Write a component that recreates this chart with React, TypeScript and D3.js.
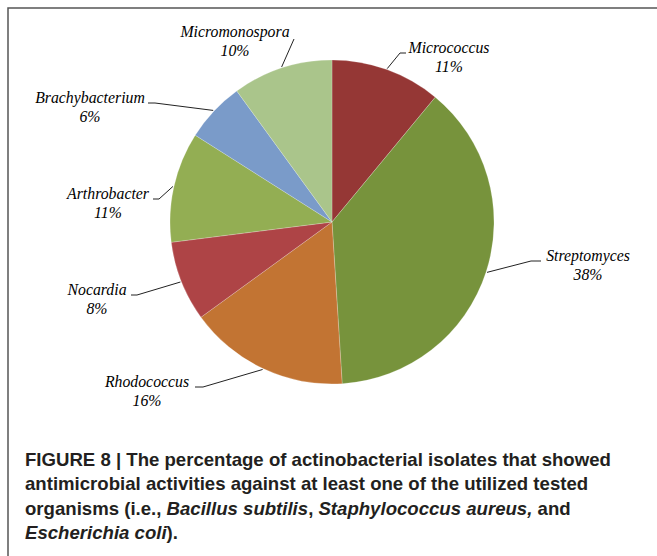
import React, { useEffect, useRef } from 'react';
import * as d3 from 'd3';

// Data
const genera = ['Micrococcus', 'Streptomyces', 'Rhodococcus', 'Nocardia', 'Arthrobacter', 'Brachybacterium', 'Micromonospora'];
const percents = [11, 38, 16, 8, 11, 6, 10];
const sliceColors = ['#953735', '#77933c', '#c27433', '#ae4446', '#93ae53', '#7a9bc9', '#aac58b'];

// where each label sits (text centre + first baseline) and the bend of its leader line
const labelLayout = [
    { x: 449, y: 53, elbow: [400, 53], end: [406, 53] },
    { x: 588, y: 261, elbow: [531, 261], end: [541, 261] },
    { x: 147, y: 387, elbow: [203, 387], end: [195, 387] },
    { x: 97, y: 295, elbow: [137, 295], end: [131, 295] },
    { x: 108, y: 199, elbow: [159, 199], end: [153, 199] },
    { x: 90, y: 103, elbow: [155, 103], end: [148, 103] },
    { x: 235, y: 37, elbow: [294, 39], end: [294, 39] },
];

const captionLines = [
    [{ t: 'FIGURE 8 | The percentage of actinobacterial isolates that showed', i: false }],
    [{ t: 'antimicrobial activities against at least one of the utilized tested', i: false }],
    [
        { t: 'organisms (i.e., ', i: false },
        { t: 'Bacillus subtilis', i: true },
        { t: ', ', i: false },
        { t: 'Staphylococcus aureus,', i: true },
        { t: ' and', i: false },
    ],
    [
        { t: 'Escherichia coli', i: true },
        { t: ').', i: false },
    ],
];

const App = () => {
    const svgRef = useRef<SVGSVGElement>(null);

    useEffect(() => {
        const width = 657;
        const height = 556;
        const cx = 332;
        const cy = 222;
        const radius = 162;

        const svg = d3.select(svgRef.current)
            .attr('width', width)
            .attr('height', height);

        svg.selectAll('*').remove();

        svg.append('rect').attr('width', width).attr('height', height).attr('fill', '#fff');

        // frame
        svg.append('path')
            .attr('d', `M8,${height} L8,8 L${width},8`)
            .attr('fill', 'none')
            .attr('stroke', '#555')
            .attr('stroke-width', 1.5);

        const data = genera.map((name, i) => ({ name, value: percents[i], color: sliceColors[i] }));

        const pie = d3.pie<any>().sort(null).value(d => d.value);
        const arcs = pie(data);
        const arc = d3.arc<any>().innerRadius(0).outerRadius(radius);
        const edge = d3.arc<any>().innerRadius(radius + 1).outerRadius(radius + 1);

        const g = svg.append('g').attr('transform', `translate(${cx},${cy})`);

        g.selectAll('path.slice')
            .data(arcs)
            .join('path')
            .attr('class', 'slice')
            .attr('d', arc)
            .attr('fill', d => d.data.color)
            .attr('stroke', 'rgba(255,255,255,0.35)')
            .attr('stroke-width', 0.6);

        // leader lines
        svg.append('g')
            .selectAll('polyline')
            .data(arcs)
            .join('polyline')
            .attr('points', (d, i) => {
                const [ex, ey] = edge.centroid(d);
                const l = labelLayout[i];
                return [[ex + cx, ey + cy], l.elbow, l.end].map(p => p.join(',')).join(' ');
            })
            .attr('fill', 'none')
            .attr('stroke', '#222')
            .attr('stroke-width', 1);

        // labels
        const labels = svg.append('g')
            .attr('font-family', '"Liberation Serif", "Times New Roman", serif')
            .attr('font-style', 'italic')
            .attr('font-size', 15.8)
            .attr('fill', '#000')
            .attr('text-anchor', 'middle');

        arcs.forEach((d, i) => {
            const l = labelLayout[i];
            const t = labels.append('text').attr('x', l.x).attr('y', l.y);
            t.append('tspan').attr('x', l.x).text(d.data.name);
            t.append('tspan').attr('x', l.x).attr('dy', 19).text(`${d.data.value}%`);
        });

        // caption
        const cap = svg.append('g')
            .attr('font-family', '"Liberation Sans", Arial, sans-serif')
            .attr('font-weight', 'bold')
            .attr('font-size', 18.6)
            .attr('fill', '#231f20');

        captionLines.forEach((parts, li) => {
            const t = cap.append('text').attr('x', 25).attr('y', 466 + li * 24.4);
            parts.forEach(p => {
                t.append('tspan')
                    .attr('font-style', p.i ? 'italic' : 'normal')
                    .text(p.t);
            });
        });
    }, []);

    return (
        <div>
            <svg ref={svgRef} style={{ position: 'absolute', left: 0, top: 0 }}></svg>
        </div>
    );
};

export default App;
